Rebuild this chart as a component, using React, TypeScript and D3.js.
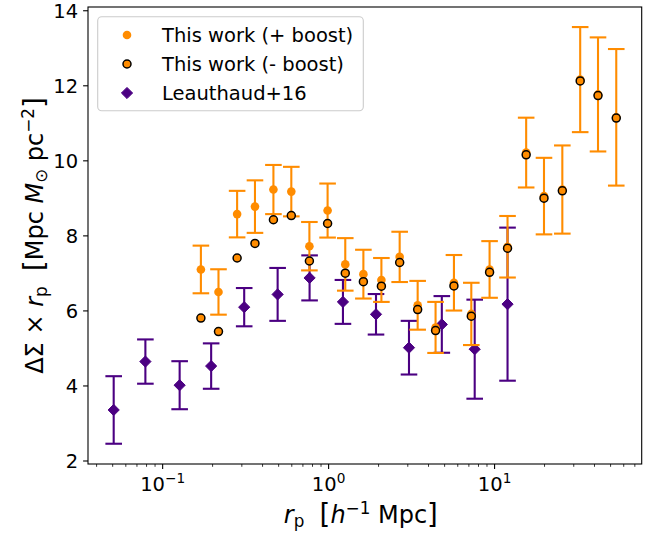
import React from 'react';
import * as d3 from 'd3';

// ---- data ----
const rpThis = [0.170, 0.217, 0.281, 0.360, 0.465, 0.596, 0.766, 0.986, 1.26, 1.62, 2.08, 2.68, 3.44, 4.41, 5.69, 7.24, 9.33, 11.97, 15.5, 19.85, 25.6, 32.8, 42.0, 54.1];
const dsPlus = [7.105, 6.505, 8.58, 8.78, 9.235, 9.18, 7.725, 8.675, 7.24, 6.98, 6.825, 7.44, 6.15, 5.56, 6.75, 5.92, 7.105, 7.71, 10.22, 9.06, 9.235, 12.165, 11.77, 11.16];
const dsPlusErr = [0.635, 0.605, 0.62, 0.70, 0.655, 0.66, 0.645, 0.72, 0.70, 0.65, 0.585, 0.67, 0.65, 0.68, 0.74, 0.83, 0.755, 0.82, 0.93, 1.02, 1.175, 1.40, 1.52, 1.82];
const dsMinus = [5.81, 5.45, 7.41, 7.80, 8.43, 8.54, 7.33, 8.33, 7.005, 6.78, 6.66, 7.29, 6.035, 5.475, 6.667, 5.86, 7.03, 7.67, 10.16, 9.005, 9.2, 12.13, 11.74, 11.14];

const rpL16 = [0.0507, 0.0787, 0.1266, 0.196, 0.31, 0.493, 0.768, 1.22, 1.93, 3.05, 4.81, 7.59, 11.97];
const dsL16 = [3.36, 4.65, 4.02, 4.53, 6.10, 6.44, 6.88, 6.24, 5.91, 5.02, 5.64, 4.98, 6.18];
const dsL16Err = [0.90, 0.59, 0.64, 0.605, 0.51, 0.705, 0.60, 0.585, 0.54, 0.715, 0.755, 1.32, 2.04];

const yTicks = [2, 4, 6, 8, 10, 12, 14];
const xTicks = [0.1, 1, 10];
const xTickExp = ['\u22121', '0', '1'];
const legendLabels = ['This work (+ boost)', 'This work (- boost)', 'Leauthaud+16'];

const ORANGE = '#ff8c00';
const PURPLE = '#4b0082';
const FONT = '"DejaVu Sans", sans-serif';

const W = 659;
const H = 536;
const L = 88, R = 641.7, T = 7, B = 464;

const x = d3.scaleLog().domain([0.0355, 77]).range([L, R]);
const y = d3.scaleLinear().domain([1.92, 14.1]).range([B, T]);

const minorTicks: number[] = [];
for (let e = -2; e <= 1; e++) {
  for (let m = 2; m <= 9; m++) {
    const v = m * Math.pow(10, e);
    if (v > x.domain()[0] && v < x.domain()[1]) minorTicks.push(v);
  }
}

function ErrBar({ cx, lo, hi, color }: { cx: number; lo: number; hi: number; color: string }) {
  const cap = 8.3;
  return (
    <g stroke={color} strokeWidth={2.1}>
      <line x1={cx} x2={cx} y1={lo} y2={hi} />
      <line x1={cx - cap} x2={cx + cap} y1={lo} y2={lo} />
      <line x1={cx - cap} x2={cx + cap} y1={hi} y2={hi} />
    </g>
  );
}

function Diamond({ cx, cy, r, color }: { cx: number; cy: number; r: number; color: string }) {
  const d = `M${cx},${cy - r}L${cx + r},${cy}L${cx},${cy + r}L${cx - r},${cy}Z`;
  return <path d={d} fill={color} stroke={color} strokeWidth={1} />;
}

export default function App() {
  const tickFs = 19.5;
  const labelFs = 24;
  const brFs = labelFs * 1.15;
  return (
    <svg width={W} height={H} style={{ position: 'absolute', left: 0, top: 0, background: '#fff' }} fontFamily={FONT}>
      <rect x={0} y={0} width={W} height={H} fill="#fff" />

      {/* Leauthaud+16 */}
      {rpL16.map((r, i) => (
        <ErrBar key={'le' + i} cx={x(r)} lo={y(dsL16[i] - dsL16Err[i])} hi={y(dsL16[i] + dsL16Err[i])} color={PURPLE} />
      ))}
      {rpL16.map((r, i) => (
        <Diamond key={'ld' + i} cx={x(r)} cy={y(dsL16[i])} r={5.6} color={PURPLE} />
      ))}

      {/* This work + boost */}
      {rpThis.map((r, i) => (
        <ErrBar key={'pe' + i} cx={x(r)} lo={y(dsPlus[i] - dsPlusErr[i])} hi={y(dsPlus[i] + dsPlusErr[i])} color={ORANGE} />
      ))}
      {rpThis.map((r, i) => (
        <circle key={'pc' + i} cx={x(r)} cy={y(dsPlus[i])} r={4.3} fill={ORANGE} />
      ))}

      {/* This work - boost */}
      {rpThis.map((r, i) => (
        <circle key={'mc' + i} cx={x(r)} cy={y(dsMinus[i])} r={4.0} fill={ORANGE} stroke="#000" strokeWidth={1.5} />
      ))}

      {/* spines */}
      <rect x={L} y={T} width={R - L} height={B - T} fill="none" stroke="#000" strokeWidth={1.1} />

      {/* y ticks */}
      {yTicks.map((t) => (
        <g key={'yt' + t}>
          <line x1={L - 4.9} x2={L} y1={y(t)} y2={y(t)} stroke="#000" strokeWidth={1.1} />
          <text x={L - 9.8} y={y(t)} dy="0.36em" textAnchor="end" fontSize={tickFs} fill="#000">{t}</text>
        </g>
      ))}

      {/* x ticks */}
      {minorTicks.map((t, i) => (
        <line key={'xm' + i} x1={x(t)} x2={x(t)} y1={B} y2={B + 2.8} stroke="#000" strokeWidth={0.8} />
      ))}
      {xTicks.map((t, i) => (
        <g key={'xt' + t}>
          <line x1={x(t)} x2={x(t)} y1={B} y2={B + 4.9} stroke="#000" strokeWidth={1.1} />
          <text x={x(t)} y={491} textAnchor="middle" fontSize={tickFs} fill="#000">
            10
            <tspan dy={-8} fontSize={tickFs * 0.7}>{xTickExp[i]}</tspan>
          </text>
        </g>
      ))}

      {/* x label */}
      <text x={(L + R) / 2 - 4} y={523} textAnchor="middle" fontSize={labelFs} fill="#000" xmlSpace="preserve">
        <tspan fontStyle="italic">r</tspan>
        <tspan dy={4} fontSize={labelFs * 0.7}>p</tspan>
        <tspan dy={-4}>{'  '}</tspan>
        <tspan fontSize={brFs} dy={1}>[</tspan>
        <tspan fontStyle="italic" dy={-1}>h</tspan>
        <tspan dy={-9} fontSize={labelFs * 0.7}>{'\u22121'}</tspan>
        <tspan dy={9}>{' Mpc'}</tspan>
        <tspan fontSize={brFs} dy={1}>]</tspan>
      </text>

      {/* y label */}
      <text transform={`translate(43, ${(T + B) / 2}) rotate(-90)`} textAnchor="middle" fontSize={labelFs} fill="#000" xmlSpace="preserve">
        <tspan>{'\u0394\u03A3 \u00D7 '}</tspan>
        <tspan fontStyle="italic">r</tspan>
        <tspan dy={4} fontSize={labelFs * 0.7}>p</tspan>
        <tspan dy={-4}>{'  '}</tspan>
        <tspan fontSize={brFs} dy={1}>[</tspan>
        <tspan dy={-1}>{'Mpc '}</tspan>
        <tspan fontStyle="italic">M</tspan>
        <tspan dy={4} fontSize={labelFs * 0.7}>{'\u2299'}</tspan>
        <tspan dy={-4}>{' pc'}</tspan>
        <tspan dy={-9} fontSize={labelFs * 0.7}>{'\u22122'}</tspan>
        <tspan dy={10} fontSize={brFs}>]</tspan>
      </text>

      {/* legend */}
      <rect x={97.7} y={16.7} width={265.6} height={94} rx={4} fill="#fff" fillOpacity={0.8} stroke="#cccccc" strokeWidth={1.1} />
      {legendLabels.map((lab, i) => {
        const cy = 35 + i * 29;
        return (
          <g key={'lg' + i}>
            {i === 0 && <circle cx={127} cy={cy} r={4.3} fill={ORANGE} />}
            {i === 1 && <circle cx={127} cy={cy} r={4.0} fill={ORANGE} stroke="#000" strokeWidth={1.5} />}
            {i === 2 && <Diamond cx={127} cy={cy} r={5.6} color={PURPLE} />}
            <text x={162} y={cy} dy="0.36em" fontSize={tickFs} fill="#000">{lab}</text>
          </g>
        );
      })}
    </svg>
  );
}
